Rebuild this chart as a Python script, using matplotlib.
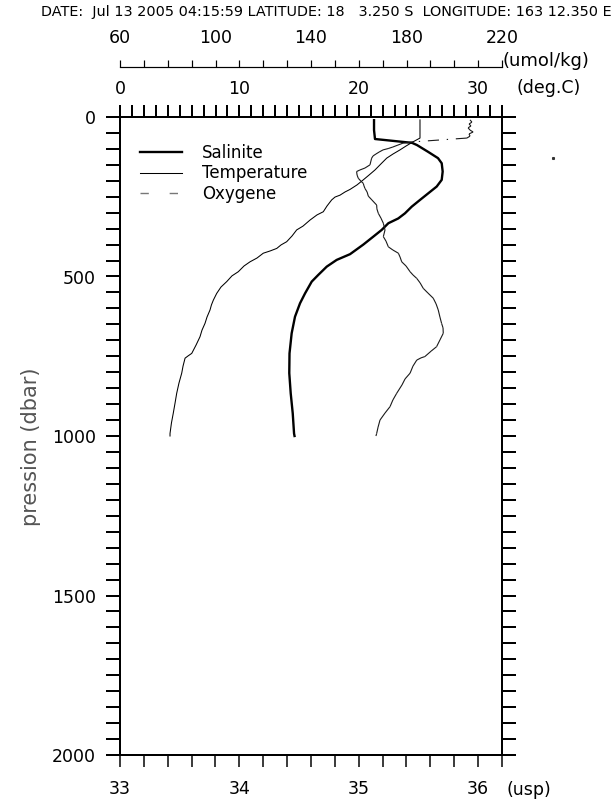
import numpy as np
import matplotlib
matplotlib.use("Agg")
import matplotlib.pyplot as plt
from matplotlib.collections import LineCollection
from matplotlib.lines import Line2D
from matplotlib.ticker import FixedLocator, MultipleLocator

# ---------------- data ----------------
header = "DATE:  Jul 13 2005 04:15:59 LATITUDE: 18   3.250 S  LONGITUDE: 163 12.350 E"

sal_p = [10, 41, 69, 81, 88, 109, 119, 129, 145, 171, 197, 218, 239, 260, 281, 302,
         318, 333, 354, 375, 400, 430, 448, 469, 495, 516, 553, 584, 626, 678, 741,
         803, 866, 929, 992, 1000]
sal = [35.128, 35.128, 35.136, 35.446, 35.488, 35.580, 35.622, 35.664, 35.695, 35.703,
       35.695, 35.653, 35.583, 35.513, 35.444, 35.387, 35.331, 35.248, 35.192, 35.122,
       35.038, 34.927, 34.815, 34.732, 34.661, 34.606, 34.550, 34.508, 34.466, 34.438,
       34.420, 34.418, 34.430, 34.447, 34.458, 34.462]

temp_p = [9, 41, 66, 78, 91, 103, 116, 129, 147, 166, 182, 197, 213, 227, 235, 245,
          251, 260, 279, 297, 307, 323, 342, 354, 373, 391, 401, 412, 420, 427, 442,
          454, 467, 485, 498, 516, 533, 553, 574, 589, 605, 627, 647, 668, 689, 715,
          741, 749, 756, 781, 803, 834, 866, 897, 929, 959, 992, 1000]
temp = [25.13, 25.13, 25.13, 24.54, 23.96, 23.46, 22.87, 22.34, 21.86, 21.36, 20.86,
        20.38, 19.85, 19.27, 18.85, 18.43, 18.01, 17.73, 17.34, 17.03, 16.50, 15.92,
        15.33, 14.80, 14.41, 13.96, 13.49, 13.13, 12.57, 12.00, 11.48, 10.89, 10.39,
        9.91, 9.38, 8.94, 8.46, 8.10, 7.82, 7.66, 7.54, 7.29, 7.12, 6.87, 6.70, 6.37,
        6.01, 5.70, 5.45, 5.28, 5.17, 4.94, 4.75, 4.61, 4.46, 4.31, 4.19, 4.19]

oxy_p = [9, 16, 22, 28, 34, 41, 47, 53, 60, 66,
         78, 80, 82, 88, 94, 99, 103, 110, 116, 122, 129, 138, 150, 160, 166, 171,
         182, 192, 201, 208, 216, 224, 235, 248, 260, 276, 288, 302, 317, 333, 354,
         375, 389, 407, 417, 427, 439, 454, 467, 485, 495, 506, 520, 537, 552, 568,
         586, 605, 627, 647, 661, 678, 699, 720, 734, 751, 755, 762, 781, 803, 821,
         840, 866, 887, 908, 928, 950, 972, 992, 1000]
oxy = [206.6, 207.4, 206.2, 207.0, 205.8, 206.6, 207.9, 206.2, 206.6, 205.3,
       182.7, 180.6, 178.5, 176.4, 174.3, 172.3, 170.2, 168.5, 167.2, 166.0, 165.4,
       165.1, 164.7, 162.6, 160.5, 159.1, 159.3, 159.8, 160.9, 161.9, 162.2, 162.6,
       163.5, 164.0, 165.5, 167.5, 167.6, 168.2, 169.3, 170.3, 171.0, 170.3, 171.4,
       172.4, 174.3, 176.6, 177.3, 178.0, 179.8, 181.5, 182.7, 184.3, 185.7, 187.0,
       189.0, 191.2, 192.4, 193.3, 194.0, 194.7, 195.3, 195.4, 194.0, 192.6, 190.3,
       187.7, 186.1, 184.3, 182.7, 181.5, 179.4, 178.1, 175.9, 174.3, 173.1, 171.0,
       168.9, 168.1, 167.5, 167.2]

oxy_out_p = [129]
oxy_out = [241.4]

sal_ticks = [33, 34, 35, 36]
temp_ticks = [0, 10, 20, 30]
oxy_ticks = [60, 100, 140, 180, 220]
p_ticks = [0, 500, 1000, 1500, 2000]

labels = ["Salinite", "Temperature", "Oxygene"]

# ---------------- layout ----------------
W, H = 615, 805
fig = plt.figure(figsize=(W / 100, H / 100), dpi=100)
PT = 72 / 100  # points per pixel


def fx(px):
    return px / W


def fy(py):
    return 1 - py / H


L, R, T, B = 120, 502, 117, 755
FS = 12.5

ax = fig.add_axes([fx(L), fy(B), (R - L) / W, (B - T) / H])
ax.set_xlim(33, 36.2)
ax.set_ylim(2000, 0)
ax.set_facecolor("none")

for s in ax.spines.values():
    s.set_linewidth(2 * PT)

ext = 13 / (R - L)
ax.axhline(2000, xmin=-ext, xmax=1 + ext, color="k", lw=2 * PT, clip_on=False)
ax.axhline(0, xmin=-ext, xmax=1 + ext, color="k", lw=2 * PT, clip_on=False)

ax.xaxis.set_major_locator(FixedLocator(sal_ticks))
ax.xaxis.set_minor_locator(MultipleLocator(0.2))
ax.tick_params(axis="x", which="both", direction="out", length=12 * PT, width=1.5 * PT,
               top=False, bottom=True, labelsize=FS, pad=13 * PT)
ax.yaxis.set_major_locator(FixedLocator(p_ticks))
ax.yaxis.set_minor_locator(MultipleLocator(50))
ax.tick_params(axis="y", which="both", direction="out", length=14 * PT, width=2 * PT,
               left=True, right=True, labelsize=FS, pad=10 * PT)

ax.plot(sal, sal_p, color="k", lw=1.7)

# temperature axis (top)
ax_t = ax.twiny()
ax_t.set_xlim(0, 32)
ax_t.set_facecolor("none")
for k in ["left", "right", "bottom"]:
    ax_t.spines[k].set_visible(False)
ax_t.spines["top"].set_linewidth(2 * PT)
ax_t.xaxis.set_major_locator(FixedLocator(temp_ticks))
ax_t.xaxis.set_minor_locator(MultipleLocator(1))
ax_t.tick_params(axis="x", which="both", direction="out", length=12 * PT, width=2 * PT,
                 labelsize=FS, pad=7 * PT)
ax_t.plot(temp, temp_p, color="k", lw=0.75)

# oxygen data axis (hidden)
ax_o = ax.twiny()
ax_o.set_xlim(60, 220)
ax_o.set_facecolor("none")
ax_o.axis("off")
segs = [[(oxy[i], oxy_p[i]), (oxy[i + 1], oxy_p[i + 1])] for i in range(len(oxy) - 1)]
lc = LineCollection(segs, colors="#1a1a1a", linewidths=0.8,
                    linestyles=[(0, (10, 7, 1.2, 7))])
ax_o.add_collection(lc)
ax_o.plot(oxy_out, oxy_out_p, linestyle="none", marker="s", ms=1.2, color="#333",
          clip_on=False)

# oxygen scale
ax_os = fig.add_axes([fx(L), fy(67), (R - L) / W, 0.0001])
ax_os.set_xlim(60, 220)
ax_os.set_facecolor("none")
for k in ["left", "right", "bottom"]:
    ax_os.spines[k].set_visible(False)
ax_os.spines["top"].set_linewidth(1.2 * PT)
ax_os.set_yticks([])
ax_os.xaxis.tick_top()
ax_os.xaxis.set_major_locator(FixedLocator(oxy_ticks))
ax_os.xaxis.set_minor_locator(MultipleLocator(10))
ax_os.tick_params(axis="x", which="both", direction="out", length=7 * PT, width=1.2 * PT,
                  labelsize=FS, pad=13 * PT, bottom=False, top=True)

# unit labels
fig.text(fx(503), fy(61), "(umol/kg)", ha="left", va="center", fontsize=13)
fig.text(fx(517), fy(88), "(deg.C)", ha="left", va="center", fontsize=FS)
fig.text(fx(506), fy(790), "(usp)", ha="left", va="center", fontsize=FS)

# header & y label
fig.text(fx(612), fy(12), header, ha="right", va="center", fontsize=10.4)
fig.text(fx(31), fy(447), "pression (dbar)", rotation=90, ha="center", va="center",
         fontsize=15, color="#555555")

# legend
handles = [Line2D([], [], color="k", lw=1.7),
           Line2D([], [], color="k", lw=0.75),
           Line2D([], [], color="#777777", lw=1.0, linestyle=(0, (6, 15)))]
ax.legend(handles, labels, loc="upper left",
          bbox_to_anchor=((140 - L) / (R - L), 1 - (144 - T) / (B - T)),
          frameon=False, fontsize=12, borderpad=0, borderaxespad=0,
          handlelength=2.5, handletextpad=1.2, labelspacing=0.15)

fig.savefig("out.png", dpi=100)
